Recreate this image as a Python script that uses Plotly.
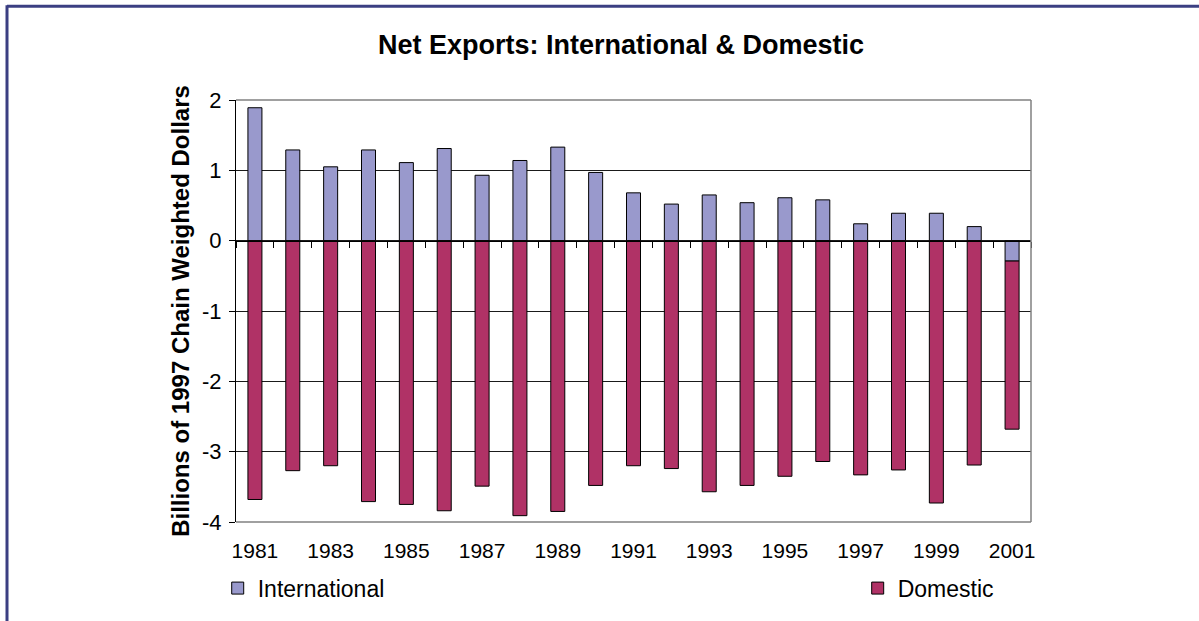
import plotly.graph_objects as go

years = [str(y) for y in range(1981, 2002)]
international = [1.89, 1.29, 1.05, 1.29, 1.11, 1.31, 0.93, 1.14, 1.33, 0.97,
                 0.68, 0.52, 0.65, 0.54, 0.61, 0.58, 0.24, 0.39, 0.39, 0.20, -0.29]
domestic = [-3.68, -3.27, -3.20, -3.71, -3.75, -3.84, -3.49, -3.91, -3.85, -3.48,
            -3.20, -3.24, -3.57, -3.48, -3.35, -3.14, -3.33, -3.26, -3.73, -3.19, -2.39]
year_ticks = [str(y) for y in range(1981, 2002, 2)]
y_ticks = [-4, -3, -2, -1, 0, 1, 2]
y_tick_text = ["-4", "-3", "-2", "-1", "0", "1", "2"]

FONT = "Arial, Liberation Sans, sans-serif"
INTL_COLOR = "#9999CC"
DOM_COLOR = "#B03266"

fig = go.Figure()
fig.add_trace(go.Bar(x=years, y=international, name="International",
                     marker=dict(color=INTL_COLOR, line=dict(color="black", width=1)),
                     legend="legend"))
fig.add_trace(go.Bar(x=years, y=domestic, name="Domestic",
                     marker=dict(color=DOM_COLOR, line=dict(color="black", width=1)),
                     legend="legend2"))
# helper trace so the zero-crossing category axis (x2) is drawn
fig.add_trace(go.Scatter(x=years, y=[0] * len(years), xaxis="x2", mode="lines",
                         line=dict(width=0, color="rgba(0,0,0,0)"),
                         showlegend=False, hoverinfo="skip"))

cat_range = [-0.5, len(years) - 0.5]

fig.update_layout(
    width=1199, height=621,
    margin=dict(l=236, r=168, t=100, b=98),
    paper_bgcolor="white", plot_bgcolor="white",
    barmode="relative", bargap=0.63,
    font=dict(family=FONT, size=20, color="black"),
    title=dict(text="<b>Net Exports: International &amp; Domestic</b>",
               font=dict(family=FONT, size=27, color="black"),
               x=(621 - 236) / 795, xanchor="center", y=1 - 45 / 621, yanchor="middle",
               xref="paper", yref="container"),
    xaxis=dict(type="category", categoryorder="array", categoryarray=years,
               range=cat_range, autorange=False,
               tickvals=year_ticks, ticktext=year_ticks,
               ticks="outside", ticklen=10, tickcolor="rgba(0,0,0,0)",
               showline=False, showgrid=False, zeroline=False,
               tickfont=dict(family=FONT, size=21, color="black")),
    xaxis2=dict(type="category", overlaying="x", matches="x", anchor="free",
                position=4 / 6, showline=True, linecolor="black", linewidth=1,
                ticks="outside", ticklen=6, tickcolor="black", tickwidth=1,
                tickson="boundaries", dtick=1, showticklabels=False,
                showgrid=False, zeroline=False),
    yaxis=dict(range=[-4, 2], tickvals=y_ticks, ticktext=y_tick_text,
               ticks="outside", ticklen=6, ticklabelstandoff=3,
               tickcolor="black", showline=True, linecolor="black", linewidth=1,
               showgrid=True, gridcolor="#1a1a1a", gridwidth=1, zeroline=False,
               tickfont=dict(family=FONT, size=22, color="black"),
               title=dict(text="<b>Billions of 1997 Chain Weighted Dollars</b>",
                          font=dict(family=FONT, size=24, color="black"),
                          standoff=5)),
    legend=dict(orientation="h", x=-0.023, xanchor="left", y=-0.154, yanchor="middle",
                font=dict(family=FONT, size=23, color="black"),
                bgcolor="rgba(0,0,0,0)", itemwidth=30),
    legend2=dict(orientation="h", x=0.782, xanchor="left", y=-0.154, yanchor="middle",
                 font=dict(family=FONT, size=23, color="black"),
                 bgcolor="rgba(0,0,0,0)", itemwidth=30),
    showlegend=True,
)

# plot-area border (gray) on top, right and bottom
border = dict(color="#808080", width=1.5)
fig.add_shape(type="line", xref="x domain", yref="y domain", x0=0, x1=1, y0=1, y1=1,
              line=border, layer="above")
fig.add_shape(type="line", xref="x domain", yref="y domain", x0=1, x1=1, y0=0, y1=1,
              line=border, layer="above")
fig.add_shape(type="line", xref="x domain", yref="y domain", x0=0, x1=1, y0=0, y1=0,
              line=border, layer="above")

# outer frame (navy) on top and left
frame = dict(color="#3B3F82", width=3)
px_x = lambda px: (px - 236) / 795
px_y = lambda py: (523 - py) / 423
fig.add_shape(type="line", xref="paper", yref="paper", x0=px_x(7), x1=px_x(1210),
              y0=px_y(6), y1=px_y(6), line=frame, layer="above")
fig.add_shape(type="line", xref="paper", yref="paper", x0=px_x(7), x1=px_x(7),
              y0=px_y(5), y1=px_y(640), line=frame, layer="above")

fig.write_html("out.html", config={"displayModeBar": False},
               post_script="document.body.style.margin='0px';document.body.style.overflow='hidden';")
